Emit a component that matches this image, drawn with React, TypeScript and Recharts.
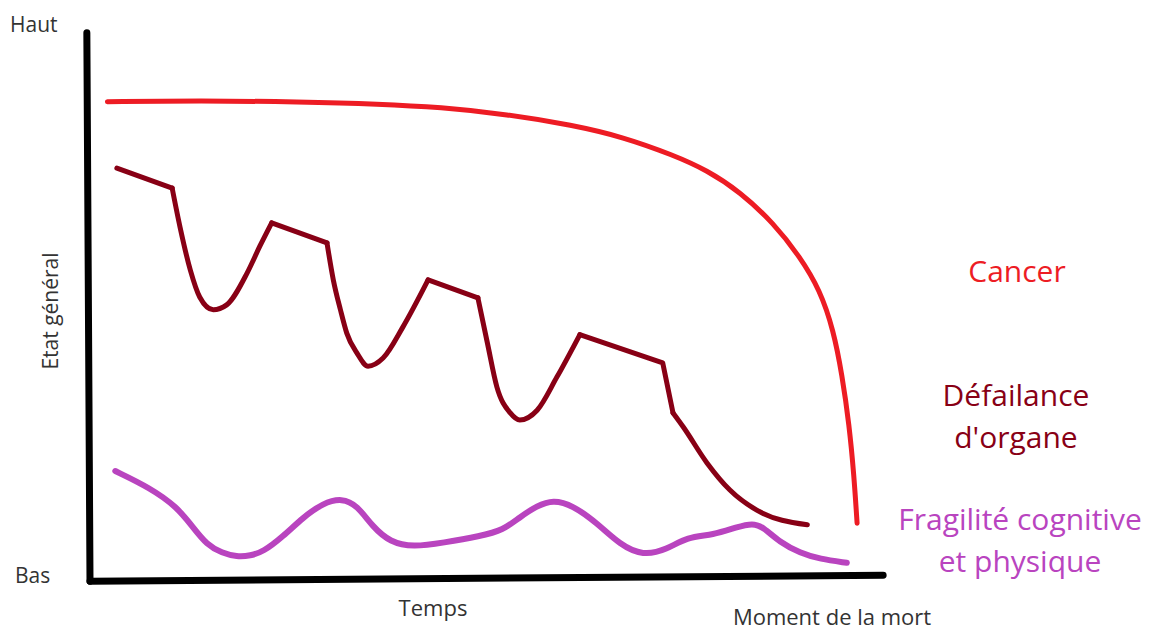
import { LineChart, Line, XAxis, YAxis, ReferenceLine } from 'recharts'

// Temps (0 = début, 100 = fin du graphe) / état général (0 = bas, 100 = haut)
const cancer = [
  { x: 2.2, y: 87.7 }, { x: 13.9, y: 87.9 }, { x: 26.6, y: 87.7 }, { x: 36.7, y: 87.3 },
  { x: 44.3, y: 86.7 }, { x: 52.8, y: 85.4 }, { x: 61.1, y: 83.4 }, { x: 67.5, y: 81.2 },
  { x: 73.8, y: 77.9 }, { x: 78.1, y: 75.1 }, { x: 82.3, y: 71.1 }, { x: 86.5, y: 65.4 },
  { x: 89.9, y: 59.1 }, { x: 92.4, y: 53.0 }, { x: 94.1, y: 45.7 }, { x: 95.2, y: 37.4 },
  { x: 96.1, y: 28.2 }, { x: 96.7, y: 19.0 }, { x: 97.1, y: 10.1 },
]

// défaillance d'organe : paliers droits puis chutes arrondies
const paliers = [
  [{ x: 3.4, y: 75.5 }, { x: 10.4, y: 71.8 }],
  [{ x: 23.0, y: 65.4 }, { x: 30.0, y: 61.7 }],
  [{ x: 42.8, y: 54.9 }, { x: 49.1, y: 51.6 }],
  [{ x: 62.0, y: 44.8 }, { x: 72.5, y: 39.6 }, { x: 73.8, y: 30.4 }],
]

const chutes = [
  [
    { x: 10.4, y: 71.8 }, { x: 11.4, y: 64.6 }, { x: 12.7, y: 56.7 }, { x: 13.9, y: 51.7 },
    { x: 15.6, y: 49.4 }, { x: 17.3, y: 50.3 }, { x: 19.9, y: 56.2 }, { x: 21.5, y: 61.1 },
    { x: 23.0, y: 65.4 },
  ],
  [
    { x: 30.0, y: 61.7 }, { x: 30.8, y: 54.9 }, { x: 31.7, y: 49.4 }, { x: 32.5, y: 45.1 },
    { x: 33.8, y: 41.4 }, { x: 35.2, y: 39.0 }, { x: 37.1, y: 40.5 }, { x: 39.6, y: 46.2 },
    { x: 42.8, y: 54.9 },
  ],
  [
    { x: 49.1, y: 51.6 }, { x: 50.3, y: 43.3 }, { x: 51.5, y: 35.2 }, { x: 53.2, y: 30.4 },
    { x: 54.4, y: 29.1 }, { x: 56.6, y: 30.9 }, { x: 59.1, y: 37.0 }, { x: 62.0, y: 44.8 },
  ],
  [
    { x: 73.8, y: 30.4 }, { x: 75.1, y: 27.8 }, { x: 78.1, y: 21.2 }, { x: 81.0, y: 16.2 },
    { x: 84.4, y: 12.5 }, { x: 90.8, y: 9.8 },
  ],
]

const fragilite = [
  { x: 3.2, y: 19.7 }, { x: 7.6, y: 16.6 }, { x: 11.0, y: 13.1 }, { x: 13.0, y: 9.4 },
  { x: 14.8, y: 6.1 }, { x: 16.7, y: 4.6 }, { x: 18.6, y: 3.9 }, { x: 20.3, y: 4.1 },
  { x: 21.9, y: 4.8 }, { x: 24.4, y: 7.6 }, { x: 27.0, y: 11.2 }, { x: 29.5, y: 13.8 },
  { x: 31.9, y: 14.7 }, { x: 33.8, y: 13.4 }, { x: 35.8, y: 9.4 }, { x: 38.0, y: 6.6 },
  { x: 40.9, y: 5.7 }, { x: 44.7, y: 6.5 }, { x: 49.4, y: 7.7 }, { x: 52.3, y: 8.8 },
  { x: 54.4, y: 11.2 }, { x: 56.6, y: 13.3 }, { x: 58.6, y: 14.4 }, { x: 61.1, y: 13.4 },
  { x: 64.2, y: 10.1 }, { x: 67.1, y: 6.1 }, { x: 70.0, y: 4.1 }, { x: 73.0, y: 5.2 },
  { x: 75.6, y: 7.6 }, { x: 78.9, y: 7.9 }, { x: 81.9, y: 9.4 }, { x: 83.9, y: 10.1 },
  { x: 85.2, y: 9.4 }, { x: 87.3, y: 6.6 }, { x: 89.9, y: 4.6 }, { x: 92.4, y: 3.5 },
  { x: 95.8, y: 2.8 },
]

const ROUGE = '#ed1c24'
const BORDEAUX = '#880015'
const VIOLET = '#b944bf'
const GRIS = '#333333'
const POLICE = '"Open Sans", "Noto Sans", sans-serif'

export default function App() {
  return (
    <div style={{ position: 'absolute', left: 0, top: 0, width: 1156, height: 631, background: '#fff' }}>
      <LineChart width={1156} height={631} margin={{ top: 35, left: 90, right: 276, bottom: 53 }}>
        <XAxis type="number" dataKey="x" domain={[0, 100]} hide allowDataOverflow />
        <YAxis type="number" domain={[0, 100]} hide allowDataOverflow />
        <ReferenceLine
          segment={[{ x: -0.4, y: 100.4 }, { x: 0, y: -0.6 }]}
          stroke="#000" strokeWidth={7} strokeLinecap="round" ifOverflow="visible"
        />
        <ReferenceLine
          segment={[{ x: 0, y: -0.6 }, { x: 100.4, y: 0.5 }]}
          stroke="#000" strokeWidth={7} strokeLinecap="round" ifOverflow="visible"
        />
        <Line data={cancer} dataKey="y" type="basis" stroke={ROUGE} strokeWidth={5}
          strokeLinecap="round" dot={false} activeDot={false} isAnimationActive={false} />
        {paliers.map((d, i) => (
          <Line key={'p' + i} data={d} dataKey="y" type="linear" stroke={BORDEAUX} strokeWidth={5}
            strokeLinecap="round" strokeLinejoin="round" dot={false} activeDot={false} isAnimationActive={false} />
        ))}
        {chutes.map((d, i) => (
          <Line key={'c' + i} data={d} dataKey="y" type="monotoneX" stroke={BORDEAUX} strokeWidth={5}
            strokeLinecap="round" strokeLinejoin="round" dot={false} activeDot={false} isAnimationActive={false} />
        ))}
        <Line data={fragilite} dataKey="y" type="basis" stroke={VIOLET} strokeWidth={6}
          strokeLinecap="round" dot={false} activeDot={false} isAnimationActive={false} />
      </LineChart>

      <svg width={1156} height={631} style={{ position: 'absolute', left: 0, top: 0, pointerEvents: 'none' }}
        fontFamily={POLICE}>
        <text x={10} y={32} fontSize={21} fill={GRIS}>Haut</text>
        <text x={15} y={583} fontSize={21} fill={GRIS}>Bas</text>
        <text x={0} y={0} fontSize={21} fill={GRIS} textAnchor="middle"
          transform="translate(58 311) rotate(-90)">Etat général</text>
        <text x={433} y={616} fontSize={22} fill={GRIS} textAnchor="middle">Temps</text>
        <text x={832} y={625} fontSize={22} fill={GRIS} textAnchor="middle">Moment de la mort</text>

        <text x={1017} y={282} fontSize={30} fill={ROUGE} textAnchor="middle">Cancer</text>
        <text x={1016} y={406} fontSize={30} fill={BORDEAUX} textAnchor="middle">Défailance</text>
        <text x={1016} y={448} fontSize={30} fill={BORDEAUX} textAnchor="middle">d'organe</text>
        <text x={1020} y={530} fontSize={30} fill={VIOLET} textAnchor="middle">Fragilité cognitive</text>
        <text x={1020} y={572} fontSize={30} fill={VIOLET} textAnchor="middle">et physique</text>
      </svg>
    </div>
  )
}
